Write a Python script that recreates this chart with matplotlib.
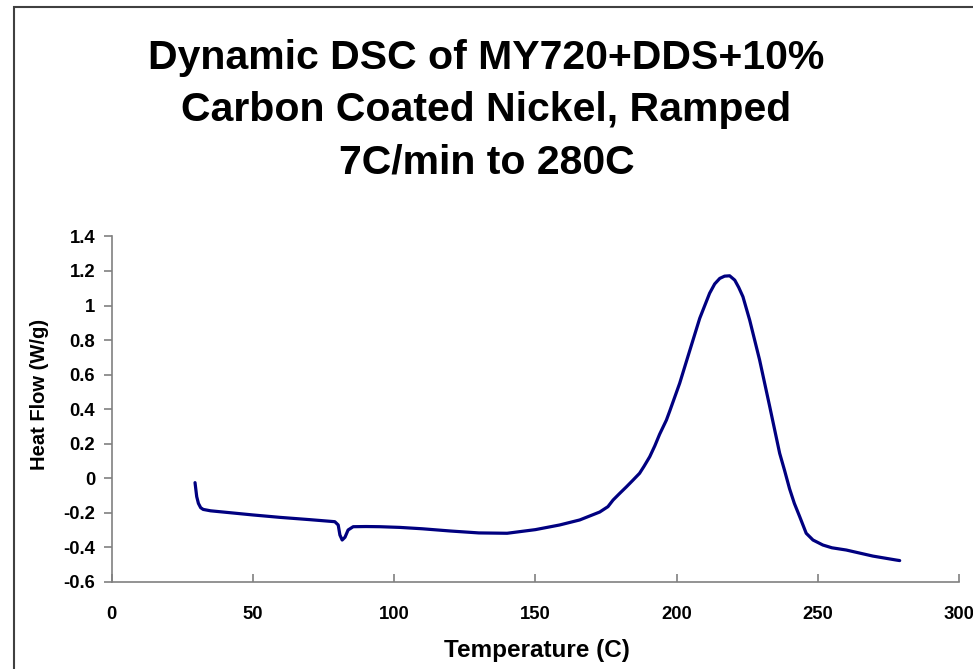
import matplotlib
matplotlib.use("Agg")
import matplotlib.pyplot as plt
from matplotlib.patches import Rectangle

# ---- data ----
temperature = [29.5, 30.1, 30.7, 31.5, 32.4, 35, 41.9, 50, 59.6, 70, 79.0, 80.2, 80.8,
               81.6, 82.6, 83.7, 85.5, 90, 94.9, 102, 110, 120, 130, 140, 150, 158.6,
               165.7, 172.8, 175.7, 177.5, 180.0, 182.2, 184.6, 186.9, 188.5, 190.5,
               192.3, 194.0, 196.4, 197.6, 201.1, 204.0, 208.2, 211.7, 213.5, 215.3,
               217.0, 218.8, 220.6, 222.0, 223.5, 225.9, 229.4, 233.0, 236.5, 238.2,
               240.0, 241.7, 243.6, 245.9, 248.3, 251.8, 255.0, 260.1, 269.5, 277.8,
               279.0]
heat_flow = [-0.025, -0.106, -0.145, -0.170, -0.180, -0.188, -0.199, -0.212, -0.226,
             -0.239, -0.251, -0.270, -0.328, -0.357, -0.341, -0.299, -0.280, -0.279,
             -0.280, -0.284, -0.292, -0.305, -0.316, -0.318, -0.297, -0.270, -0.241,
             -0.195, -0.164, -0.126, -0.085, -0.050, -0.010, 0.029, 0.070, 0.125,
             0.188, 0.255, 0.337, 0.390, 0.550, 0.704, 0.926, 1.071, 1.125, 1.157,
             1.170, 1.172, 1.147, 1.105, 1.051, 0.915, 0.685, 0.414, 0.145, 0.048,
             -0.060, -0.145, -0.222, -0.318, -0.357, -0.386, -0.402, -0.415, -0.450,
             -0.473, -0.476]

x_ticks = [0, 50, 100, 150, 200, 250, 300]
y_ticks = [-0.6, -0.4, -0.2, 0, 0.2, 0.4, 0.6, 0.8, 1.0, 1.2, 1.4]
y_tick_labels = ["-0.6", "-0.4", "-0.2", "0", "0.2", "0.4", "0.6", "0.8", "1", "1.2", "1.4"]

title = "Dynamic DSC of MY720+DDS+10%\nCarbon Coated Nickel, Ramped\n7C/min to 280C"
x_label = "Temperature (C)"
y_label = "Heat Flow (W/g)"

# ---- figure ----
W, H = 973, 669
plt.rcParams['font.family'] = ['Liberation Sans', 'DejaVu Sans']
fig = plt.figure(figsize=(W / 100, H / 100), dpi=100)

left, right, top, bottom = 111.7, 959, 236.4, 582
ax = fig.add_axes([left / W, 1 - bottom / H, (right - left) / W, (bottom - top) / H])

ax.plot(temperature, heat_flow, color="#000080", lw=2.3, solid_capstyle="round",
        solid_joinstyle="round")

ax.set_xlim(0, 300)
ax.set_ylim(-0.6, 1.4)
ax.set_xticks(x_ticks)
ax.set_yticks(y_ticks)
ax.set_yticklabels(y_tick_labels)

for s in ("top", "right"):
    ax.spines[s].set_visible(False)
for s in ("left", "bottom"):
    ax.spines[s].set_color("#808080")
    ax.spines[s].set_linewidth(1.2)

ax.tick_params(axis="x", direction="in", length=6, width=1.2, color="#808080",
               pad=17, labelsize=13.3)
ax.tick_params(axis="y", direction="out", length=6, width=1.2, color="#808080",
               pad=6, labelsize=13.3)
for lab in ax.get_xticklabels() + ax.get_yticklabels():
    lab.set_fontweight("bold")

fig.text(0.5, 1 - 110 / H, title, ha="center", va="center", fontsize=29.5,
         fontweight="bold", linespacing=1.47)
fig.text(537 / W, 1 - 650 / H, x_label, ha="center", va="center", fontsize=17.5,
         fontweight="bold")
fig.text(40 / W, 1 - 394 / H, y_label, ha="center", va="center", fontsize=14.5,
         fontweight="bold", rotation=90)

# outer chart border (extends past right/bottom edge as in reference)
fig.patches.append(Rectangle((14 / W, -0.05), 1.1, 1 - 7 / H + 0.05,
                             transform=fig.transFigure, fill=False,
                             edgecolor="#404040", lw=1.5))

fig.savefig("out.png", dpi=100)
